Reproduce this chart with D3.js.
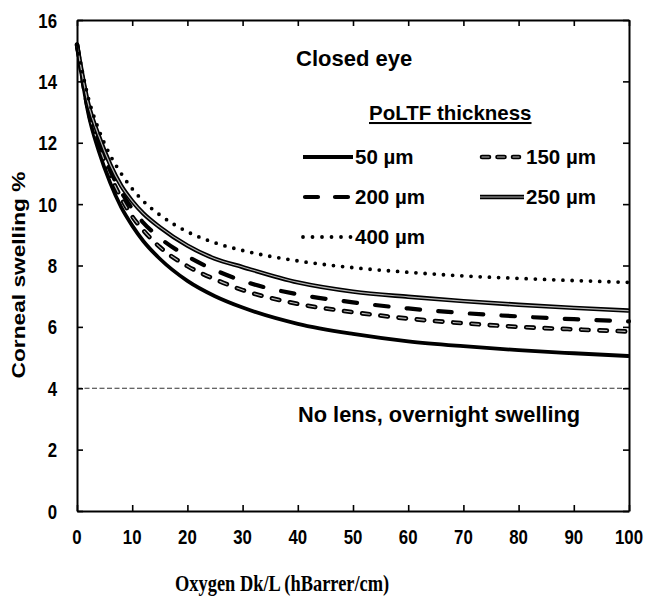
<!DOCTYPE html>
<html>
<head>
<meta charset="utf-8">
<script src="https://cdn.jsdelivr.net/npm/d3@7"></script>
<style>
  html, body { margin: 0; padding: 0; background: #fff; }
  svg { display: block; }
  text { font-family: "Liberation Sans", Arial, sans-serif; font-weight: bold; fill: #000; }
</style>
</head>
<body>
<svg id="chart" width="648" height="596"></svg>
<script>
// Oxygen transmissibility of the lens (x) against corneal swelling (y)
const dk = [0, 2, 4, 6, 8, 10, 12, 15, 20, 25, 30, 40, 50, 60, 70, 80, 90, 100];
const swell50  = [15.2, 13.0, 11.7, 10.7, 9.9, 9.3, 8.8, 8.22, 7.5, 7.0, 6.63, 6.1, 5.77, 5.53, 5.37, 5.24, 5.14, 5.05];
const swell150 = [15.2, 13.1, 11.9, 10.95, 10.2, 9.6, 9.15, 8.6, 7.98, 7.55, 7.2, 6.75, 6.48, 6.27, 6.12, 6.0, 5.92, 5.85];
const swell200 = [15.2, 13.2, 12.0, 11.1, 10.4, 9.85, 9.4, 8.9, 8.3, 7.85, 7.5, 7.06, 6.8, 6.6, 6.45, 6.34, 6.25, 6.18];
const swell250 = [15.2, 13.3, 12.2, 11.3, 10.6, 10.1, 9.7, 9.25, 8.65, 8.22, 7.95, 7.45, 7.15, 6.98, 6.84, 6.72, 6.62, 6.53];
const swell400 = [15.2, 13.5, 12.4, 11.6, 11.0, 10.5, 10.1, 9.65, 9.1, 8.74, 8.49, 8.15, 7.93, 7.78, 7.66, 7.58, 7.51, 7.45];
const noLensSwelling = 4;

const seriesNames = ["50 µm", "150 µm", "200 µm", "250 µm", "400 µm"];
const xTickLabels = [0, 10, 20, 30, 40, 50, 60, 70, 80, 90, 100];
const yTickLabels = [0, 2, 4, 6, 8, 10, 12, 14, 16];

const svg = d3.select("#chart");
const plotLeft = 77, plotRight = 629, plotTop = 20, plotBottom = 511;

const x = d3.scaleLinear().domain([0, 100]).range([plotLeft, plotRight]);
const y = d3.scaleLinear().domain([0, 16]).range([plotBottom, plotTop]);

// Line styles per film thickness
const styles = {
  "50 µm":  [{ stroke: "#000", width: 3.8 }],
  "150 µm": [{ stroke: "#000", width: 4.6, dash: "7.5 10.8", cap: "round", legendDash: "7 8.5" },
             { stroke: "#bdbdbd", width: 1.1, dash: "7.5 10.8", cap: "round", legendDash: "7 8.5" }],
  "200 µm": [{ stroke: "#000", width: 4.2, dash: "13.5 18.2", cap: "round", legendDash: "13 17" }],
  "250 µm": [{ stroke: "#000", width: 4.4 }, { stroke: "#b5b5b5", width: 1.2 }],
  "400 µm": [{ stroke: "#000", width: 3.8, dash: "0 9.2", cap: "round", legendDash: "0 9.5" }]
};

const seriesValues = [swell50, swell150, swell200, swell250, swell400];

// Reference line: overnight swelling without a lens
svg.append("line")
  .attr("x1", x(0)).attr("x2", x(100))
  .attr("y1", y(noLensSwelling)).attr("y2", y(noLensSwelling))
  .attr("stroke", "#333").attr("stroke-width", 1.1)
  .attr("stroke-dasharray", "5 2.5");

const line = d3.line()
  .x(d => x(d[0]))
  .y(d => y(d[1]))
  .curve(d3.curveMonotoneX);

const curves = svg.append("g");
seriesNames.forEach((name, i) => {
  const pts = dk.map((d, j) => [d, seriesValues[i][j]]);
  styles[name].forEach(s => {
    curves.append("path")
      .attr("d", line(pts))
      .attr("fill", "none")
      .attr("stroke", s.stroke)
      .attr("stroke-width", s.width)
      .attr("stroke-linecap", s.cap || "butt")
      .attr("stroke-linejoin", "round")
      .attr("stroke-dasharray", s.dash || null);
  });
});

// Box with inward ticks on all four sides
function styleAxis(g) {
  g.selectAll(".domain").attr("stroke", "#000").attr("stroke-width", 2);
  g.selectAll(".tick line").attr("stroke", "#000").attr("stroke-width", 1.6);
  g.selectAll(".tick text").remove();
}
svg.append("g").attr("transform", `translate(0,${plotBottom})`)
  .call(d3.axisBottom(x).tickValues(xTickLabels).tickSizeInner(-6).tickSizeOuter(0)).call(styleAxis);
svg.append("g").attr("transform", `translate(0,${plotTop})`)
  .call(d3.axisTop(x).tickValues(xTickLabels).tickSizeInner(-6).tickSizeOuter(0)).call(styleAxis);
svg.append("g").attr("transform", `translate(${plotLeft},0)`)
  .call(d3.axisLeft(y).tickValues(yTickLabels).tickSizeInner(-6).tickSizeOuter(0)).call(styleAxis);
svg.append("g").attr("transform", `translate(${plotRight},0)`)
  .call(d3.axisRight(y).tickValues(yTickLabels).tickSizeInner(-6).tickSizeOuter(0)).call(styleAxis);

// Tick labels
svg.append("g").selectAll("text").data(xTickLabels).join("text")
  .attr("transform", d => `translate(${x(d)},544) scale(1,1.25)`)
  .attr("text-anchor", "middle")
  .style("font-size", "16.8px")
  .text(d => d);
svg.append("g").selectAll("text").data(yTickLabels).join("text")
  .attr("transform", d => `translate(57,${y(d) + 7.5}) scale(1,1.25)`)
  .attr("text-anchor", "end")
  .style("font-size", "16.8px")
  .text(d => d);

// Axis titles
svg.append("text")
  .attr("transform", "translate(175,591) scale(1,1.24)")
  .style("font-family", "'Liberation Serif', 'Times New Roman', serif")
  .style("font-size", "18.4px")
  .text("Oxygen Dk/L (hBarrer/cm)");
svg.append("text")
  .attr("transform", "translate(25,275) rotate(-90) scale(1.24,1)")
  .attr("text-anchor", "middle")
  .style("font-size", "18.3px")
  .text("Corneal swelling %");

// Annotations
svg.append("text").attr("x", 296).attr("y", 66).style("font-size", "22px").text("Closed eye");
svg.append("text").attr("x", 298).attr("y", 422).style("font-size", "21.8px").text("No lens, overnight swelling");

// Legend
svg.append("text").attr("x", 369).attr("y", 120)
  .style("font-size", "20.5px").attr("text-decoration", "underline").text("PoLTF thickness");

const legendPos = {
  "50 µm":  { x1: 303, x2: 353, y: 157, tx: 355 },
  "150 µm": { x1: 482, x2: 519, y: 157, tx: 526 },
  "200 µm": { x1: 305, x2: 351, y: 197, tx: 355 },
  "250 µm": { x1: 480, x2: 524, y: 197, tx: 526 },
  "400 µm": { x1: 303, x2: 352, y: 237, tx: 355 }
};
const legend = svg.append("g");
seriesNames.forEach(name => {
  const p = legendPos[name];
  styles[name].forEach(s => {
    legend.append("line")
      .attr("x1", p.x1).attr("x2", p.x2).attr("y1", p.y).attr("y2", p.y)
      .attr("stroke", s.stroke)
      .attr("stroke-width", s.width)
      .attr("stroke-linecap", s.cap || "butt")
      .attr("stroke-dasharray", s.legendDash || null);
  });
  legend.append("text").attr("x", p.tx).attr("y", p.y + 7)
    .style("font-size", "20.5px").text(name);
});
</script>
</body>
</html>
